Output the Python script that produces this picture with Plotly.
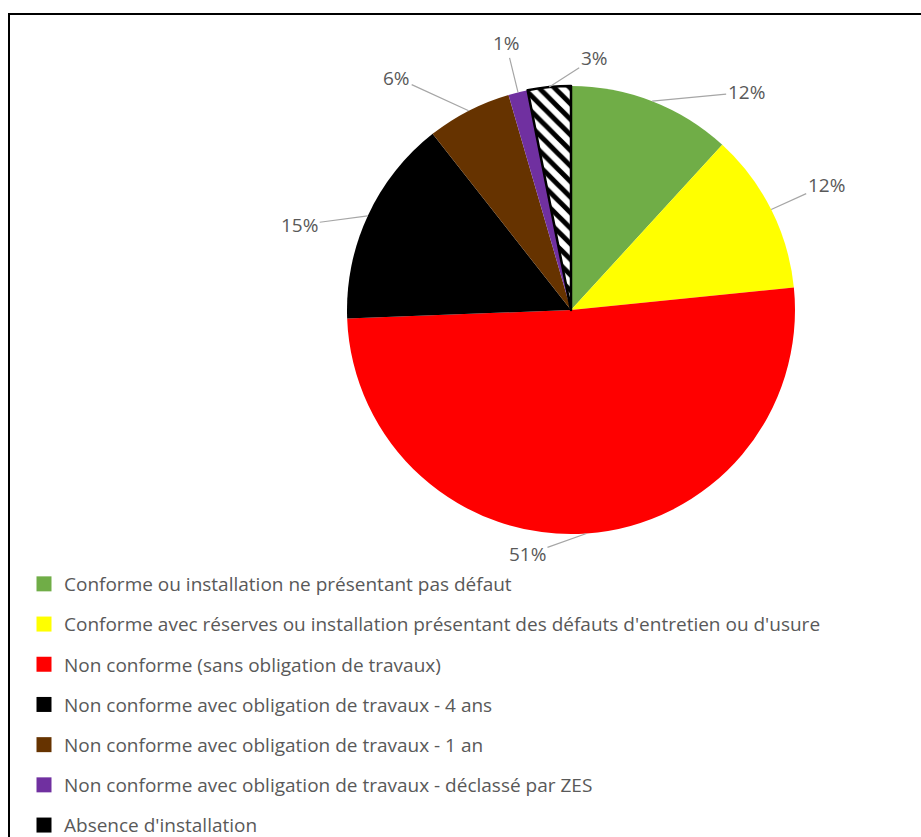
import math
import plotly.graph_objects as go

# ---- data ----
categories = [
    "Conforme ou installation ne présentant pas défaut",
    "Conforme avec réserves ou installation présentant des défauts d'entretien ou d'usure",
    "Non conforme (sans obligation de travaux)",
    "Non conforme avec obligation de travaux - 4 ans",
    "Non conforme avec obligation de travaux - 1 an",
    "Non conforme avec obligation de travaux - déclassé par ZES",
    "Absence d'installation",
]
values = [11.8, 11.6, 51.0, 15.0, 6.1, 1.4, 3.1]

# ---- styles ----
colors = ["#70AD47", "#FFFF00", "#FF0000", "#000000", "#663300", "#7030A0", "#FFFFFF"]
legend_colors = ["#70AD47", "#FFFF00", "#FF0000", "#000000", "#663300", "#7030A0", "#000000"]
patterns = ["", "", "", "", "", "", "\\"]
line_widths = [0, 0, 0, 0, 0, 0, 2.5]
# label offsets (pixels) from the slice edge point
label_offsets = [(94, -9), (55, -25), (-59, 21), (-68, 9), (-72, -33), (-12, -49), (45, -29)]

W, H = 921, 837
cx, cy, R = 571, 310, 224
FONT = "Open Sans"
TXT = "#595959"

fig = go.Figure()
fig.add_trace(go.Pie(
    labels=categories, values=values, sort=False, direction="clockwise", rotation=0,
    textinfo="none", hoverinfo="label+percent", showlegend=False,
    marker=dict(colors=colors,
                line=dict(color="#000000", width=line_widths),
                pattern=dict(shape=patterns, fgcolor="#000000", bgcolor="#FFFFFF",
                             size=11, solidity=0.45)),
    domain=dict(x=[(cx - R) / W, (cx + R) / W], y=[1 - (cy + R) / H, 1 - (cy - R) / H]),
))

# legend entries
for i, (cat, col) in enumerate(zip(categories, legend_colors)):
    fig.add_trace(go.Scatter(
        x=[None], y=[None], mode="markers", name=cat, legendgroup=f"g{i}",
        marker=dict(symbol="square", size=15, color=col, line=dict(width=0)),
    ))

# data labels with leader lines
total = sum(values)
cum = 0.0
annotations = []
for v, (ox, oy) in zip(values, label_offsets):
    mid = (cum + v / 2) / total * 2 * math.pi
    cum += v
    px = cx + R * math.sin(mid)
    py = cy - R * math.cos(mid)
    annotations.append(dict(
        x=px / W, y=1 - py / H, xref="paper", yref="paper",
        text=f"{round(v / total * 100)}%", showarrow=True, arrowhead=0,
        arrowwidth=1.2, arrowcolor="#A6A6A6", ax=ox, ay=oy, standoff=0,
        font=dict(family=FONT, size=19, color=TXT),
    ))

fig.update_layout(
    width=W, height=H, margin=dict(l=0, r=0, t=0, b=0, autoexpand=False),
    paper_bgcolor="white", plot_bgcolor="white",
    xaxis=dict(visible=False), yaxis=dict(visible=False),
    font=dict(family=FONT, size=19, color=TXT),
    annotations=annotations,
    legend=dict(x=24 / W, y=1 - 565 / H, xanchor="left", yanchor="top",
                tracegroupgap=12.5, font=dict(family=FONT, size=19, color=TXT),
                bgcolor="rgba(0,0,0,0)"),
    shapes=[dict(type="rect", xref="paper", yref="paper",
                 x0=9 / W, x1=1.05, y0=-0.05, y1=1 - 14 / H,
                 line=dict(color="#000000", width=2))],
)
fig.write_html("out.html")
